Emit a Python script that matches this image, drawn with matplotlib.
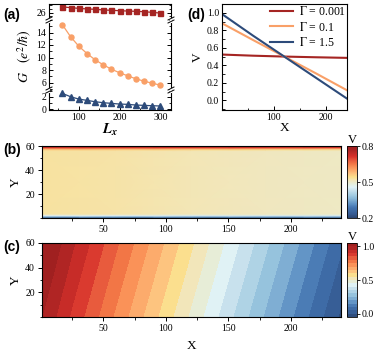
import matplotlib
matplotlib.use('Agg')
import matplotlib.pyplot as plt
import numpy as np
from matplotlib.colors import LinearSegmentedColormap
from matplotlib.lines import Line2D
from matplotlib.ticker import MultipleLocator

plt.rcParams['font.family'] = ['Liberation Serif', 'DejaVu Serif']
plt.rcParams['mathtext.fontset'] = 'stix'
plt.rcParams['axes.linewidth'] = 0.8

# ---- data (a): conductance vs Lx
Lx = [60, 80, 100, 120, 140, 160, 180, 200, 220, 240, 260, 280, 300]
G_small = [26.8, 26.7, 26.6, 26.52, 26.47, 26.38, 26.33, 26.28, 26.23, 26.19, 26.14, 26.05, 25.95]
G_mid = [15.23, 13.31, 11.81, 10.64, 9.63, 8.83, 8.13, 7.55, 7.07, 6.59, 6.21, 5.89, 5.57]
G_large = [2.54, 2.0, 1.62, 1.41, 1.19, 1.03, 0.92, 0.81, 0.76, 0.65, 0.59, 0.54, 0.49]

# ---- data (d): potential along X
X_line = [1, 60, 120, 180, 240]
V_g0001 = [0.523, 0.51, 0.50, 0.492, 0.485]
V_g01 = [0.88, 0.69, 0.50, 0.31, 0.115]
V_g15 = [0.985, 0.74, 0.50, 0.26, 0.02]
gamma_labels = [r'$\Gamma$ = 0.001', r'$\Gamma$ = 0.1', r'$\Gamma$ = 1.5']

# ---- data (b): potential map, Gamma = 0.001
xb = [1, 60, 120, 180, 240]
yb = [0, 1, 2, 3, 4, 56, 57, 58, 59, 60]
Vb = [
    [0.20, 0.20, 0.20, 0.20, 0.20],
    [0.33, 0.33, 0.33, 0.33, 0.33],
    [0.45, 0.45, 0.44, 0.44, 0.44],
    [0.51, 0.51, 0.50, 0.50, 0.49],
    [0.53, 0.525, 0.515, 0.508, 0.503],
    [0.53, 0.525, 0.515, 0.508, 0.503],
    [0.56, 0.555, 0.55, 0.54, 0.535],
    [0.63, 0.63, 0.62, 0.62, 0.61],
    [0.72, 0.72, 0.72, 0.71, 0.71],
    [0.80, 0.80, 0.80, 0.80, 0.80],
]

# ---- data (c): potential map, Gamma = 1.5
xc = [1, 10, 25, 60, 120, 180, 240]
yc = [0, 30, 60]
Vc = [
    [1.00, 0.96, 0.89, 0.74, 0.49, 0.24, -0.01],
    [1.03, 0.995, 0.925, 0.775, 0.525, 0.275, 0.025],
    [1.05, 1.03, 0.96, 0.81, 0.56, 0.31, 0.06],
]

band_colors = ['#9b1f1f', '#a82222', '#bd2a26', '#d62f2a', '#e5533a', '#f07043',
               '#f98e55', '#fca768', '#fdc27e', '#fbdf8b', '#f3e6b8', '#e6edd9',
               '#e0f2f7', '#c6e0ec', '#abd1e4', '#92c0dc', '#78a8cf', '#5b8ec2',
               '#4474b0', '#3b66a0', '#34588f', '#2b4570']
cmap = LinearSegmentedColormap.from_list('rdylbu_navy', band_colors[::-1])

red, orange, blue = '#a52523', '#f9a068', '#2d4b7a'

W, H = 381, 353
fig = plt.figure(figsize=(W / 100, H / 100), dpi=100)


def rect(l, t, r, b):
    return [l / W, 1 - b / H, (r - l) / W, (b - t) / H]


def style(ax, direction='in'):
    ax.tick_params(which='both', direction=direction, labelsize=7, pad=2)
    ax.tick_params(which='major', length=3, width=0.7)
    ax.tick_params(which='minor', length=1.8, width=0.6)


# ---------------- (a) broken axis ----------------
ax_top = fig.add_axes(rect(49, 4, 171, 20))
ax_mid = fig.add_axes(rect(49, 20, 171, 90))
ax_bot = fig.add_axes(rect(49, 90, 171, 110))
for ax in (ax_top, ax_mid, ax_bot):
    ax.plot(Lx, G_small, '-s', color=red, ms=3.6, lw=0.9)
    ax.plot(Lx, G_mid, '-o', color=orange, ms=3.6, lw=0.9)
    ax.plot(Lx, G_large, '-^', color=blue, ms=3.8, lw=0.9)
    ax.set_xlim(27, 326)
    ax.xaxis.set_major_locator(MultipleLocator(100))
    ax.xaxis.set_minor_locator(MultipleLocator(50))
    style(ax)
    ax.tick_params(which='both', right=True)
ax_top.set_ylim(25.0, 27.2)
ax_top.set_yticks([26])
ax_top.yaxis.set_minor_locator(MultipleLocator(0.5))
ax_mid.set_ylim(4.8, 16.0)
ax_mid.set_yticks([6, 8, 10, 12, 14])
ax_mid.yaxis.set_minor_locator(MultipleLocator(1))
ax_bot.set_ylim(-0.16, 3.1)
ax_bot.set_yticks([0, 2])
ax_bot.yaxis.set_minor_locator(MultipleLocator(1))
ax_top.spines['bottom'].set_visible(False)
ax_mid.spines['top'].set_visible(False)
ax_mid.spines['bottom'].set_visible(False)
ax_bot.spines['top'].set_visible(False)
for ax in (ax_top, ax_mid):
    ax.tick_params(which='both', bottom=False, labelbottom=False)
ax_bot.set_xlabel(r'$\mathbfit{L_x}$', fontsize=10.5, labelpad=0)
fig.text(25 / W, 1 - 56 / H, r'$G\ \ \ (e^2/\hbar)$', rotation=90, fontsize=10,
         ha='center', va='center')

# break marks
for yb_px in (20, 90):
    for xb_px in (49, 171):
        fig.add_artist(Line2D([xb_px / W, xb_px / W],
                              [1 - (yb_px + 1.5) / H, 1 - (yb_px - 1.5) / H],
                              color='white', lw=1.5))
        for dy in (-1.5, 1.5):
            fig.add_artist(Line2D([(xb_px - 3) / W, (xb_px + 3) / W],
                                  [1 - (yb_px + dy + 1.5) / H, 1 - (yb_px + dy - 1.5) / H],
                                  color='k', lw=0.7))

fig.text(3 / W, 1 - 15 / H, '(a)', fontsize=10, fontweight='bold',
         family='Liberation Sans', va='center')

# ---------------- (d) line profiles ----------------
ax_d = fig.add_axes(rect(222, 4, 347, 110))
for v, col, lab in zip([V_g0001, V_g01, V_g15], [red, orange, blue], gamma_labels):
    ax_d.plot(X_line, v, color=col, lw=1.5, label=lab)
ax_d.set_xlim(1, 240)
ax_d.set_ylim(-0.11, 1.1)
ax_d.xaxis.set_major_locator(MultipleLocator(100))
ax_d.xaxis.set_minor_locator(MultipleLocator(50))
ax_d.yaxis.set_major_locator(MultipleLocator(0.2))
ax_d.yaxis.set_minor_locator(MultipleLocator(0.1))
style(ax_d)
ax_d.set_xlabel('X', fontsize=9.5, labelpad=0)
ax_d.set_ylabel('V', fontsize=9.5, labelpad=2)
ax_d.legend(loc='upper right', frameon=False, fontsize=8.5, handlelength=1.9,
            handletextpad=0.5, labelspacing=0.2, borderaxespad=0.0,
            borderpad=0.1)
fig.text(187 / W, 1 - 15 / H, '(d)', fontsize=10, fontweight='bold',
         family='Liberation Sans', va='center')

# ---------------- (b) map ----------------
ax_b = fig.add_axes(rect(42, 146, 341, 218))
pm_b = ax_b.pcolormesh(xb, yb, Vb, shading='gouraud', cmap=cmap, vmin=0.2, vmax=0.8)
ax_b.set_xlim(1, 240)
ax_b.set_ylim(0, 60)
ax_b.xaxis.set_major_locator(MultipleLocator(50))
ax_b.xaxis.set_minor_locator(MultipleLocator(25))
ax_b.yaxis.set_minor_locator(MultipleLocator(10))
style(ax_b, 'out')
ax_b.set_yticks([20, 40, 60])
ax_b.set_ylabel('Y', fontsize=9.5, labelpad=2)
cax_b = fig.add_axes(rect(347, 146, 357, 218))
cb_b = fig.colorbar(pm_b, cax=cax_b, ticks=[0.2, 0.5, 0.8])
cb_b.ax.tick_params(labelsize=7, length=2, width=0.6, pad=1.5)
cb_b.ax.set_yticklabels(['0.2', '0.5', '0.8'])
cb_b.outline.set_linewidth(0.6)
cax_b.set_title('V', fontsize=9, pad=2)
fig.text(3 / W, 1 - 150 / H, '(b)', fontsize=10, fontweight='bold',
         family='Liberation Sans', va='center')

# ---------------- (c) map ----------------
ax_c = fig.add_axes(rect(42, 243, 341, 317))
cs_c = ax_c.contourf(xc, yc, Vc, levels=np.linspace(-0.05, 1.05, 23), cmap=cmap)
ax_c.set_xlim(1, 240)
ax_c.set_ylim(0, 60)
ax_c.xaxis.set_major_locator(MultipleLocator(50))
ax_c.xaxis.set_minor_locator(MultipleLocator(25))
ax_c.yaxis.set_minor_locator(MultipleLocator(10))
style(ax_c, 'out')
ax_c.set_yticks([20, 40, 60])
ax_c.set_ylabel('Y', fontsize=9.5, labelpad=2)
ax_c.set_xlabel('X', fontsize=9.5, labelpad=5)
cax_c = fig.add_axes(rect(347, 243, 357, 317))
cb_c = fig.colorbar(cs_c, cax=cax_c, ticks=[0.0, 0.5, 1.0])
cb_c.ax.tick_params(labelsize=7, length=2, width=0.6, pad=1.5)
cb_c.ax.set_yticklabels(['0.0', '0.5', '1.0'])
cb_c.outline.set_linewidth(0.6)
cax_c.set_title('V', fontsize=9, pad=2)
fig.text(3 / W, 1 - 247 / H, '(c)', fontsize=10, fontweight='bold',
         family='Liberation Sans', va='center')

fig.savefig('out.png', dpi=100)
